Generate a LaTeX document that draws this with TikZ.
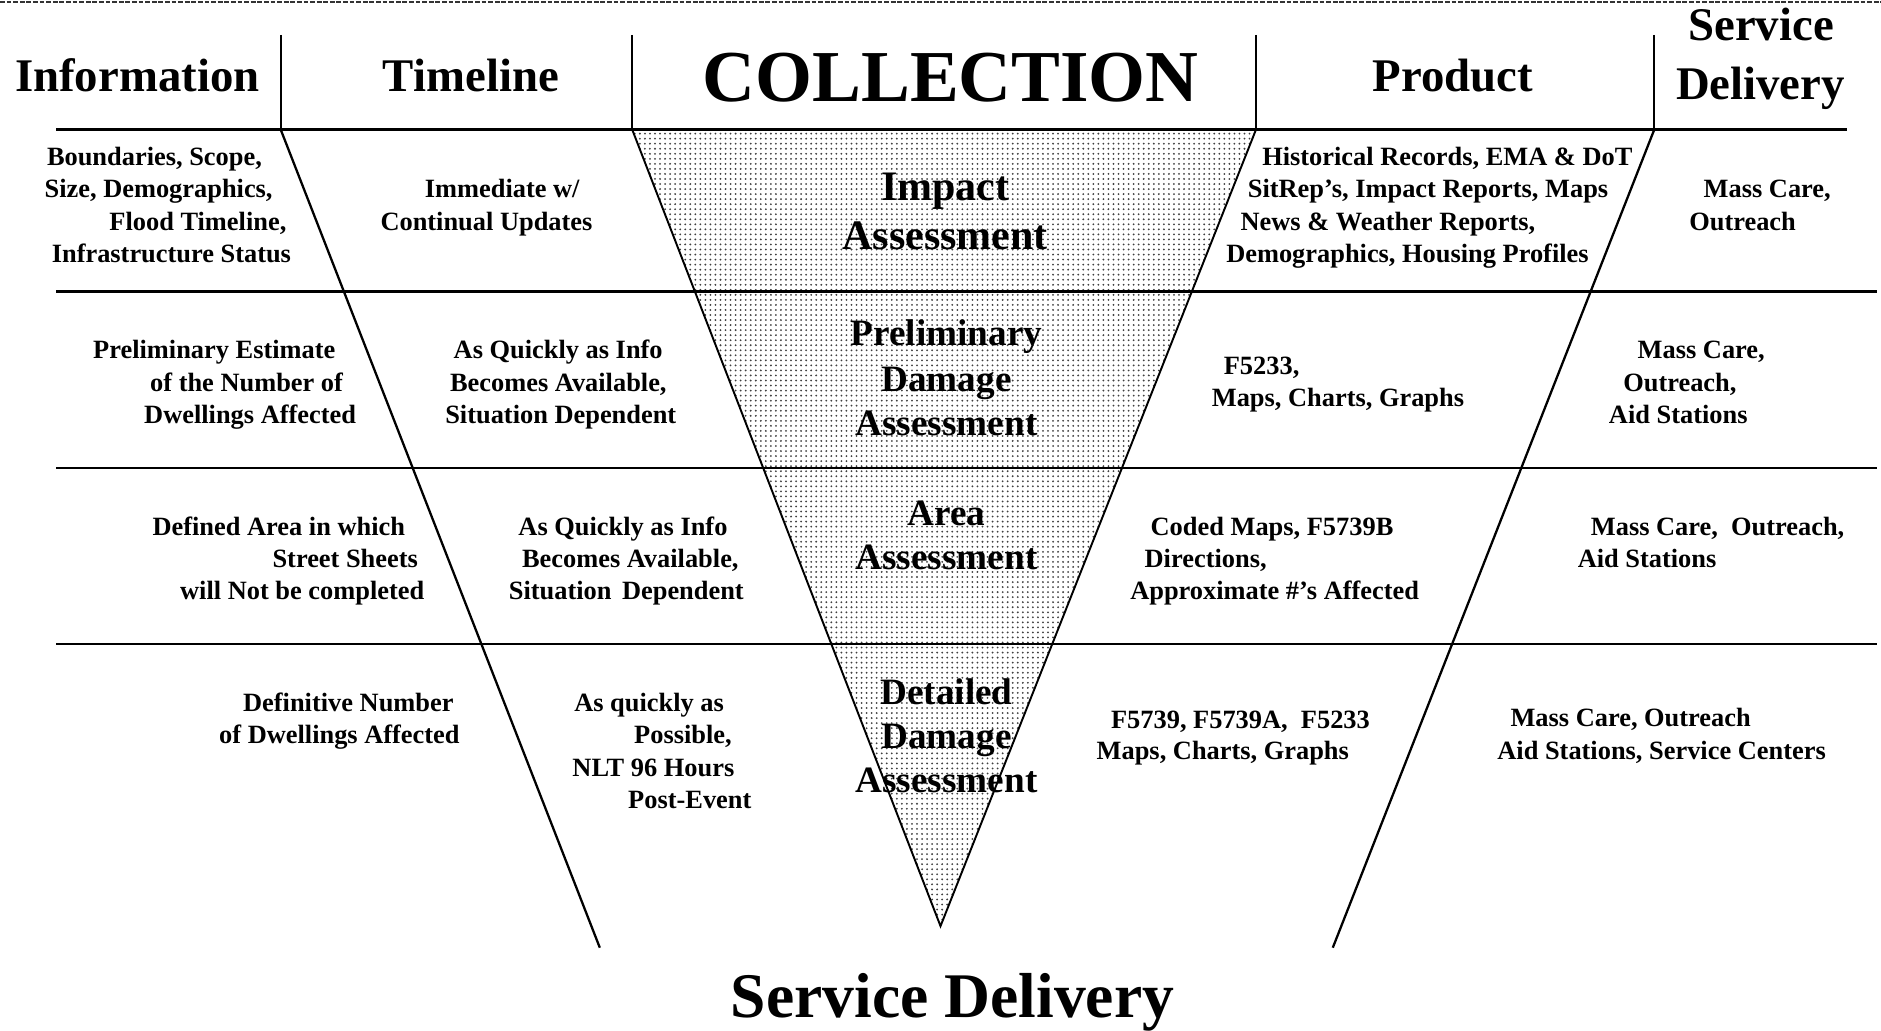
\documentclass[tikz,border=0pt]{standalone}
\usepackage{fontspec}
\setmainfont{Liberation Serif}
\usetikzlibrary{patterns}
\pgfdeclarepatternformonly{halftone}{\pgfqpoint{-1pt}{-1pt}}{\pgfqpoint{1pt}{1pt}}{\pgfqpoint{4.2pt}{4.2pt}}{\pgfpathcircle{\pgfqpoint{0pt}{0pt}}{0.85pt}\pgfusepath{fill}}
\newcommand\bodyfont{\fontsize{22}{26}\selectfont\bfseries}
\newcommand\headfont{\fontsize{39}{46}\selectfont\bfseries}
\newcommand\collfont{\fontsize{31}{37}\selectfont\bfseries}
\tikzset{
  txt/.style={anchor=base west, inner sep=0pt, font=\bodyfont},
  hdr/.style={anchor=base, inner sep=0pt, font=\headfont},
  coll/.style={anchor=base, inner sep=0pt, font=\collfont},
  rule/.style={line width=2pt, black},
  diag/.style={line width=1.9pt, black},
  tri/.style={line width=1.6pt, black, pattern=halftone, pattern color=black!75},
  topline/.style={line width=1.6pt, black!80, dash pattern=on 4pt off 1.5pt}
}
\begin{document}
\begin{tikzpicture}[x=1pt,y=-1pt]
\useasboundingbox (0,0) rectangle (1568,859);
% coordinates
\coordinate (TopL) at (0,1.5);
\coordinate (TopR) at (1568,1.5);
\coordinate (TL) at (527,108);
\coordinate (TR) at (1047,108);
\coordinate (AP) at (784,772);
\coordinate (LD1) at (234,108);
\coordinate (LD2) at (500,790);
\coordinate (RD1) at (1379,108);
\coordinate (RD2) at (1111,790);
\coordinate (V1a) at (234,29);
\coordinate (V2a) at (527,29);
\coordinate (V3a) at (1047,29);
\coordinate (V4a) at (1379,29);
\coordinate (H0a) at (47,108);  \coordinate (H0b) at (1540,108);
\coordinate (H1a) at (47,243);  \coordinate (H1b) at (1565,243);
\coordinate (H2a) at (47,390);  \coordinate (H2b) at (1565,390);
\coordinate (H3a) at (47,537);  \coordinate (H3b) at (1565,537);
% funnel
\draw[tri] (TL) -- (AP) -- (TR) -- cycle;
% rules
\draw[topline] (TopL) -- (TopR);
\draw[rule] (H0a) -- (H0b);
\draw[rule] (H1a) -- (H1b);
\draw[rule] (H2a) -- (H2b);
\draw[rule] (H3a) -- (H3b);
\draw[rule] (V1a) -- (LD1);
\draw[rule] (V2a) -- (TL);
\draw[rule] (V3a) -- (TR);
\draw[rule] (V4a) -- (RD1);
\draw[diag] (LD1) -- (LD2);
\draw[diag] (RD1) -- (RD2);
% headers
\node[hdr] (hInfo) at (114.5,76) {Information};
\node[hdr] (hTime) at (392.5,76) {Timeline};
\node[anchor=base, inner sep=0pt, font=\fontsize{61}{70}\selectfont\bfseries] (hColl) at (792.5,85) {COLLECTION};
\node[hdr] (hProd) at (1211,76) {Product};
\node[hdr] (hServ) at (1468,34) {Service};
\node[hdr] (hDeli) at (1467.5,83) {Delivery};
% funnel labels
\node[anchor=base, inner sep=0pt, font=\fontsize{35}{41}\selectfont\bfseries] (c1a) at (788,167) {Impact};
\node[anchor=base, inner sep=0pt, font=\fontsize{35}{41}\selectfont\bfseries] (c1b) at (788,208) {Assessment};
\node[coll] (c2a) at (789,288) {Preliminary};
\node[coll] (c2b) at (789,326) {Damage};
\node[coll] (c2c) at (789,363) {Assessment};
\node[coll] (c3a) at (789,438) {Area};
\node[coll] (c3b) at (789,475) {Assessment};
\node[coll] (c4a) at (789,587) {Detailed};
\node[coll] (c4b) at (789,624) {Damage};
\node[coll] (c4c) at (789,661) {Assessment};
% row 1
\node[txt] (i1a) at (39,138) {Boundaries, Scope,};
\node[txt] (i1b) at (37,165) {Size, Demographics,};
\node[txt] (i1c) at (91,192) {Flood Timeline,};
\node[txt] (i1d) at (43,219) {Infrastructure Status};
\node[txt] (t1a) at (354,165) {Immediate w/};
\node[txt] (t1b) at (317,192) {Continual Updates};
\node[txt] (p1a) at (1052,138) {Historical Records, EMA \& DoT};
\node[txt] (p1b) at (1040,165) {SitRep’s, Impact Reports, Maps};
\node[txt] (p1c) at (1034,192) {News \& Weather Reports,};
\node[txt] (p1d) at (1022,219) {Demographics, Housing Profiles};
\node[txt] (s1a) at (1420,165) {Mass Care,};
\node[txt] (s1b) at (1408,192) {Outreach};
% row 2
\node[txt] (i2a) at (77.5,299) {Preliminary Estimate};
\node[txt] (i2b) at (125,326) {of the Number of};
\node[txt] (i2c) at (120,353) {Dwellings Affected};
\node[txt] (t2a) at (378,299) {As Quickly as Info};
\node[txt] (t2b) at (375,326) {Becomes Available,};
\node[txt] (t2c) at (371,353) {Situation Dependent};
\node[txt] (p2a) at (1020,312) {F5233,};
\node[txt] (p2b) at (1010,339) {Maps, Charts, Graphs};
\node[txt] (s2a) at (1365,299) {Mass Care,};
\node[txt] (s2b) at (1353,326) {Outreach,};
\node[txt] (s2c) at (1341,353) {Aid Stations};
% row 3
\node[txt] (i3a) at (127,446) {Defined Area in which};
\node[txt] (i3b) at (227,473) {Street Sheets};
\node[txt] (i3c) at (150,500) {will Not be completed};
\node[txt] (t3a) at (432,446) {As Quickly as Info};
\node[txt] (t3b) at (435,473) {Becomes Available,};
\node[txt] (t3c) at (424,500) {Situation\hspace{0.4em}Dependent};
\node[txt] (p3a) at (959,446) {Coded Maps, F5739B};
\node[txt] (p3b) at (954,473) {Directions,};
\node[txt] (p3c) at (942,500) {Approximate \#’s Affected};
\node[txt] (s3a) at (1326,446) {Mass Care,\ \ Outreach,};
\node[txt] (s3b) at (1315,473) {Aid Stations};
% row 4
\node[txt] (i4a) at (202.5,593) {Definitive Number};
\node[txt] (i4b) at (182.5,620) {of Dwellings Affected};
\node[txt] (t4a) at (478.5,593) {As quickly as};
\node[txt] (t4b) at (528.5,620) {Possible,};
\node[txt] (t4c) at (477,647) {NLT 96 Hours};
\node[txt] (t4d) at (523.5,674) {Post-Event};
\node[txt] (p4a) at (926,607) {F5739, F5739A,\ \ F5233};
\node[txt] (p4b) at (914,633) {Maps, Charts, Graphs};
\node[txt] (s4a) at (1259,606) {Mass Care, Outreach};
\node[txt] (s4b) at (1248,633) {Aid Stations, Service Centers};
% footer
\node[anchor=base, inner sep=0pt, font=\fontsize{53}{60}\selectfont\bfseries] (foot) at (794,848) {Service Delivery};
\end{tikzpicture}
\end{document}
